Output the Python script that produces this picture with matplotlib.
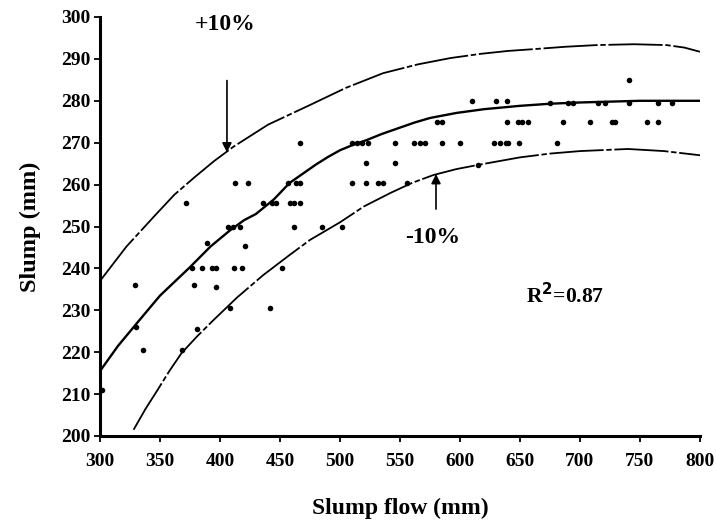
import matplotlib
matplotlib.use("Agg")
import matplotlib.pyplot as plt

# ---- data ----
pts_x = [302, 329, 330, 336, 368, 372, 378, 381, 377, 385, 389, 393, 397, 397,
         412, 418, 407, 411, 417, 408, 412.5, 423, 421, 436, 443, 447, 458, 462, 467,
         442, 452, 457, 463, 467, 462, 467, 485, 502,
         510, 522, 532, 536, 556, 522, 546,
         510, 514, 518, 523, 546, 562, 567, 571,
         585, 600, 628, 633, 638, 640, 649, 681,
         581, 585, 639, 648, 652, 657, 686,
         708, 727, 729, 756, 765,
         610, 630, 639,
         675, 690, 694, 715, 721, 741, 765, 777,
         741, 615]
pts_y = [211, 236, 226, 220.5, 220.5, 255.5, 236, 225.5, 240, 240, 246, 240, 240, 235.6,
         240, 240, 250, 250, 250, 230.5, 260.5, 260.5, 245.3, 255.5, 255.5, 255.5, 255.5, 255.5, 255.5,
         230.5, 240, 260.5, 260.5, 260.5, 250, 270, 250, 250,
         260.5, 260.5, 260.5, 260.5, 260.5, 265.2, 265.2,
         270, 270, 270, 270, 270, 270, 270, 270,
         270, 270, 270, 270, 270, 270, 270, 270,
         275, 275, 275, 275, 275, 275, 275,
         275, 275, 275, 275, 275,
         280, 280, 280,
         279.5, 279.5, 279.5, 279.5, 279.5, 279.5, 279.5, 279.5,
         285, 264.7]

fit_x = [300, 315, 333, 350, 375, 392, 408, 420, 430, 445, 458, 470, 480, 490, 500, 511,
         522, 535, 550, 562, 575, 597, 620, 650, 675, 700, 725, 750, 775, 800]
fit_y = [215.5, 221.5, 227.7, 233.5, 240.3, 245.2, 249, 251.5, 253, 256.5, 260.4, 262.8,
         264.8, 266.6, 268.2, 269.5, 270.6, 272.1, 273.6, 274.8, 275.9, 277.1, 278, 278.8,
         279.3, 279.6, 279.8, 280, 280, 280]

up_x = [300, 322, 346, 362, 379, 395, 411, 440, 475, 505, 536, 565, 592, 617, 640, 660,
        688, 714, 745, 772, 787, 800]
up_y = [237, 245.2, 252.7, 257.6, 261.8, 265.6, 269, 274.3, 279, 283.1, 286.6, 288.7,
        290.2, 291.2, 291.9, 292.3, 292.9, 293.3, 293.5, 293.3, 292.7, 291.7]

lo_x = [328, 338, 348, 358, 368, 381, 394, 414, 436, 458, 475, 500, 520, 542, 560, 578,
        597, 615, 650, 675, 700, 740, 770, 800]
lo_y = [201.5, 206.5, 211, 215.6, 219.8, 223.8, 227.5, 233, 238.4, 243.2, 246.8, 251,
        254.8, 258, 260.4, 262.3, 263.7, 264.7, 266.5, 267.4, 268, 268.5, 268, 267]

x_ticks = [300, 350, 400, 450, 500, 550, 600, 650, 700, 750, 800]
y_ticks = [200, 210, 220, 230, 240, 250, 260, 270, 280, 290, 300]

plt.rcParams['font.family'] = ['Liberation Serif', 'DejaVu Serif']

fig = plt.figure(figsize=(7.16, 5.22), dpi=100)
ax = fig.add_axes([100/716, 1 - 436/522, 600/716, 419/522])

ax.plot(up_x, up_y, color='black', lw=1.3, linestyle=(0, (30, 1.5, 3, 1.5)))
ax.plot(fit_x, fit_y, color='black', lw=1.7)
ax.plot(lo_x, lo_y, color='black', lw=1.3, linestyle=(0, (30, 1.5, 3, 1.5)))
ax.plot(pts_x, pts_y, 'o', color='black', markersize=4, markeredgewidth=0)

ax.set_xlim(300, 800)
ax.set_ylim(200, 300)
ax.set_xticks(x_ticks)
ax.set_yticks(y_ticks)
ax.tick_params(direction='out', length=4, width=1.3, labelsize=14)
ax.tick_params(axis='x', pad=8)
ax.tick_params(axis='y', pad=3)
for lab in ax.get_xticklabels() + ax.get_yticklabels():
    lab.set_fontweight('bold')
for s in ['top', 'right']:
    ax.spines[s].set_visible(False)
for s in ['left', 'bottom']:
    ax.spines[s].set_linewidth(2.2)

ax.set_xlabel('Slump flow (mm)', fontsize=17, fontweight='bold', labelpad=20)
ax.set_ylabel('Slump (mm)', fontsize=17.5, fontweight='bold', labelpad=14)

ax.annotate('', xy=(405.8, 267), xytext=(405.8, 285.5),
            arrowprops=dict(arrowstyle='-|>', color='black', lw=1.2, mutation_scale=14))
ax.text(404, 298.3, '+10%', fontsize=17, fontweight='bold', ha='center', va='center')

ax.annotate('', xy=(580, 263.2), xytext=(580, 253.5),
            arrowprops=dict(arrowstyle='-|>', color='black', lw=1.2, mutation_scale=14))
ax.text(577.5, 247.3, '-10%', fontsize=17, fontweight='bold', ha='center', va='center')

ax.text(655, 233.4, r'R$^{\mathbf{2}}$=0.87', fontsize=15.5, fontweight='bold',
        ha='left', va='center')

fig.savefig('out.png', dpi=100)
